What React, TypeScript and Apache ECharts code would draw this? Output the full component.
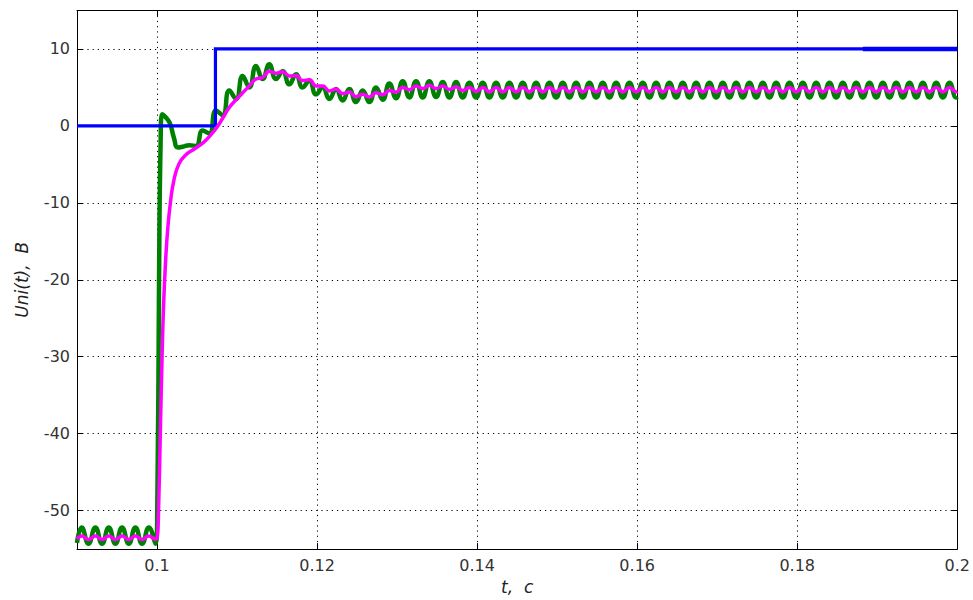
import React, { useEffect, useRef } from "react";
import * as echarts from "echarts";

// Tick values
const xTicks = [0.1, 0.12, 0.14, 0.16, 0.18, 0.2];
const yTicks = [-50, -40, -30, -20, -10, 0, 10];

// Blue: reference step
const blueStep: [number, number][] = [
  [0.09, 0], [0.1073, 0], [0.1073, 10], [0.2, 10],
];
const blueEnd: [number, number][] = [
  [0.1882, 10], [0.2, 10],
];

// Green: start and transient
const greenStart: [number, number][] = [
  [0.09, -54.2], [0.0906, -52.2], [0.09143, -54.3], [0.0923, -52.2], [0.09313, -54.3],
  [0.09397, -52.2], [0.0948, -54.3], [0.09563, -52.2], [0.09647, -54.3], [0.0973, -52.2],
  [0.09813, -54.3], [0.09897, -52.2], [0.0998, -54.3],
  [0.10003, -50], [0.10025, -20], [0.10045, -2], [0.10065, 1.5],
  [0.10153, 0.5], [0.1021, -1.5], [0.1026, -2.8], [0.1032, -2.7], [0.10403, -2.5],
  [0.10487, -2.6], [0.1057, -0.6], [0.10653, -1.0], [0.10737, 2.0], [0.1082, 1.4],
  [0.10903, 4.6], [0.10987, 3.5],
];

// Magenta: start and transient
const magentaStart: [number, number][] = [
  [0.09, -53.7], [0.0906, -53.3], [0.09143, -53.75], [0.0923, -53.3], [0.09313, -53.75],
  [0.09397, -53.3], [0.0948, -53.75], [0.09563, -53.3], [0.09647, -53.75], [0.0973, -53.3],
  [0.09813, -53.75], [0.09897, -53.3], [0.0998, -53.7],
  [0.10004, -53.4], [0.1002, -49.6], [0.10041, -40], [0.10063, -30], [0.10083, -23],
  [0.1011, -17], [0.10133, -13.5], [0.10167, -10], [0.10208, -7.2], [0.10271, -5.0],
  [0.10355, -3.8], [0.1048, -2.9], [0.10585, -2.1], [0.10669, -1.2], [0.10753, -0.1],
  [0.1082, 1.0], [0.10903, 2.4], [0.10987, 3.4],
];

// Sampling times (ripple peaks / troughs) after the transient
const tGrid = [
  0.1107, 0.11153, 0.11237, 0.1132, 0.11403, 0.11487, 0.1157, 0.11653, 0.11737, 0.1182,
  0.11903, 0.11987, 0.1207, 0.12153, 0.12237, 0.1232, 0.12403, 0.12487, 0.1257, 0.12653,
  0.12737, 0.1282, 0.12903, 0.12987, 0.1307, 0.13153, 0.13237, 0.1332, 0.13403, 0.13487,
  0.1357, 0.13653, 0.13737, 0.1382, 0.13903, 0.13987, 0.1407, 0.14153, 0.14237, 0.1432,
  0.14403, 0.14487, 0.1457, 0.14653, 0.14737, 0.1482, 0.14903, 0.14987, 0.1507, 0.15153,
  0.15237, 0.1532, 0.15403, 0.15487, 0.1557, 0.15653, 0.15737, 0.1582, 0.15903, 0.15987,
  0.1607, 0.16153, 0.16237, 0.1632, 0.16403, 0.16487, 0.1657, 0.16653, 0.16737, 0.1682,
  0.16903, 0.16987, 0.1707, 0.17153, 0.17237, 0.1732, 0.17403, 0.17487, 0.1757, 0.17653,
  0.17737, 0.1782, 0.17903, 0.17987, 0.1807, 0.18153, 0.18237, 0.1832, 0.18403, 0.18487,
  0.1857, 0.18653, 0.18737, 0.1882, 0.18903, 0.18987, 0.1907, 0.19153, 0.19237, 0.1932,
  0.19403, 0.19487, 0.1957, 0.19653, 0.19737, 0.1982, 0.19903, 0.19987, 0.2,
];

const greenGrid = [
  6.5, 5.0, 7.8, 6.1, 8.0, 6.1, 7.1, 5.4, 6.7, 5.0,
  5.9, 4.1, 5.0, 3.5, 4.8, 3.3, 4.8, 3.1, 4.6, 3.1,
  5.0, 3.4, 5.5, 3.6, 5.8, 3.7, 5.8, 3.7, 5.8, 3.75,
  5.7, 3.7, 5.7, 3.7, 5.6, 3.7, 5.6, 3.7, 5.6, 3.7,
  5.6, 3.7, 5.6, 3.7, 5.6, 3.7, 5.6, 3.7, 5.6, 3.7,
  5.6, 3.7, 5.6, 3.7, 5.6, 3.7, 5.6, 3.7, 5.6, 3.7,
  5.6, 3.7, 5.6, 3.7, 5.6, 3.7, 5.6, 3.7, 5.6, 3.7,
  5.6, 3.7, 5.6, 3.7, 5.6, 3.7, 5.6, 3.7, 5.6, 3.7,
  5.6, 3.7, 5.6, 3.7, 5.6, 3.7, 5.6, 3.7, 5.6, 3.7,
  5.6, 3.7, 5.6, 3.7, 5.6, 3.7, 5.6, 3.7, 5.6, 3.7,
  5.6, 3.7, 5.6, 3.7, 5.6, 3.7, 5.6, 3.7, 3.8,
];

const magentaGrid = [
  4.3, 5.2, 6.1, 6.3, 7.1, 6.85, 7.05, 6.5, 6.55, 5.9,
  6.0, 5.2, 5.2, 4.55, 4.8, 4.2, 4.4, 3.8, 4.1, 3.75,
  4.3, 4.05, 4.6, 4.4, 5.0, 4.7, 5.2, 4.85, 5.3, 4.85,
  5.2, 4.75, 5.1, 4.6, 5.0, 4.5, 5.0, 4.45, 5.0, 4.45,
  5.0, 4.45, 5.0, 4.45, 5.0, 4.45, 5.0, 4.45, 5.0, 4.45,
  5.0, 4.45, 5.0, 4.45, 5.0, 4.45, 5.0, 4.45, 5.0, 4.45,
  5.0, 4.45, 5.0, 4.45, 5.0, 4.45, 5.0, 4.45, 5.0, 4.45,
  5.0, 4.45, 5.0, 4.45, 5.0, 4.45, 5.0, 4.45, 5.0, 4.45,
  5.0, 4.45, 5.0, 4.45, 5.0, 4.45, 5.0, 4.45, 5.0, 4.45,
  5.0, 4.45, 5.0, 4.45, 5.0, 4.45, 5.0, 4.45, 5.0, 4.45,
  5.0, 4.45, 5.0, 4.45, 5.0, 4.45, 5.0, 4.45, 4.5,
];

const xName = "t,  c";
const yName = "Uni(t),  B";

export default function App() {
  const ref = useRef<HTMLDivElement>(null);
  useEffect(() => {
    if (!ref.current) return;
    const chart = echarts.init(ref.current, null, { renderer: "svg" });
    const green = [...greenStart, ...tGrid.map((t, i) => [t, greenGrid[i]])];
    const magenta = [...magentaStart, ...tGrid.map((t, i) => [t, magentaGrid[i]])];
    const labelStyle = { color: "#333", fontSize: 16, fontFamily: "DejaVu Sans" };
    const gridLine = { show: true, lineStyle: { color: "#000", width: 1, type: [1.2, 4] as any } };
    const axisLine = { show: true, onZero: false, lineStyle: { color: "#000", width: 1 } };
    chart.setOption({
      animation: false,
      backgroundColor: "#fff",
      grid: { left: 77, right: 14.5, top: 10.5, bottom: 44.3, containLabel: false },
      xAxis: [
        {
          type: "value", position: "bottom", min: 0.09, max: 0.2,
          axisLine,
          axisTick: { show: true, inside: true, length: 6, customValues: xTicks, lineStyle: { color: "#000" } },
          axisLabel: { ...labelStyle, margin: 8, customValues: xTicks },
          splitLine: gridLine,
          name: xName, nameLocation: "middle", nameGap: 26,
          nameTextStyle: { fontStyle: "italic", fontSize: 17, color: "#222", fontFamily: "DejaVu Sans" },
        },
        {
          type: "value", position: "top", min: 0.09, max: 0.2,
          axisLine,
          axisTick: { show: true, inside: true, length: 6, customValues: xTicks, lineStyle: { color: "#000" } },
          axisLabel: { show: false },
          splitLine: { show: false },
        },
      ],
      yAxis: [
        {
          type: "value", position: "left", min: -55, max: 15,
          axisLine,
          axisTick: { show: true, inside: true, length: 6, customValues: yTicks, lineStyle: { color: "#000" } },
          axisLabel: { ...labelStyle, margin: 7, customValues: yTicks },
          splitLine: gridLine,
          name: yName, nameLocation: "middle", nameGap: 47, nameRotate: 90,
          nameTextStyle: { fontStyle: "italic", fontSize: 17, color: "#222", fontFamily: "DejaVu Sans" },
        },
        {
          type: "value", position: "right", min: -55, max: 15,
          axisLine,
          axisTick: { show: true, inside: true, length: 6, customValues: yTicks, lineStyle: { color: "#000" } },
          axisLabel: { show: false },
          splitLine: { show: false },
        },
      ],
      series: [
        {
          type: "line", data: green, showSymbol: false, symbol: "none", smooth: 0.5,
          lineStyle: { color: "#008000", width: 4.5, join: "round" }, z: 2,
        },
        {
          type: "line", data: blueStep, showSymbol: false, symbol: "none",
          lineStyle: { color: "#0000ff", width: 3.2, join: "miter" }, z: 3,
        },
        {
          type: "line", data: blueEnd, showSymbol: false, symbol: "none",
          lineStyle: { color: "#0000ff", width: 4.5 }, z: 3,
        },
        {
          type: "line", data: magenta, showSymbol: false, symbol: "none", smooth: 0.5,
          lineStyle: { color: "#ff00ff", width: 3.5, join: "round" }, z: 4,
        },
      ],
    });
    return () => chart.dispose();
  }, []);
  return (
    <div
      ref={ref}
      style={{ position: "fixed", left: 0, top: 0, width: 973, height: 600 }}
    />
  );
}
